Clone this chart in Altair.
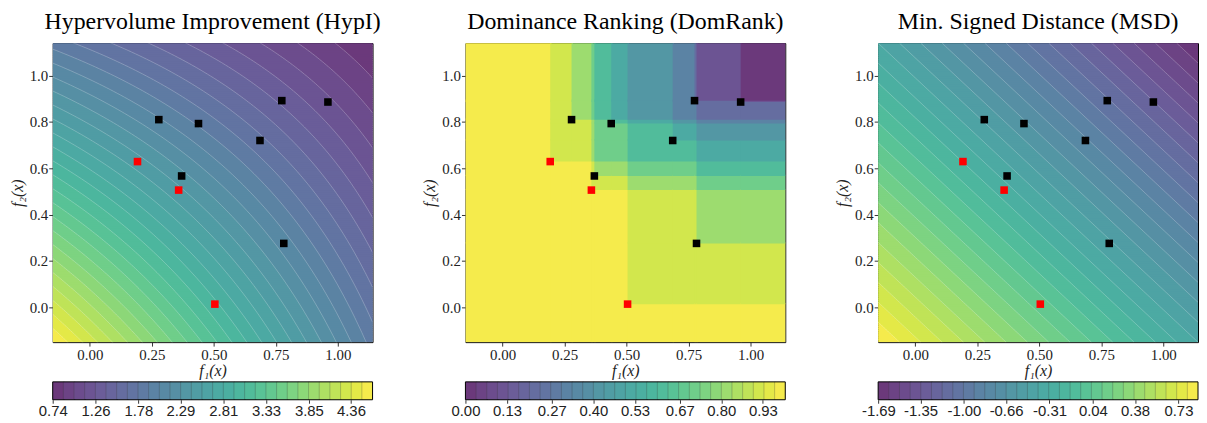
import numpy as np
import pandas as pd
import altair as alt

# ---------------- values ----------------
front_f1 = [0.192, 0.358, 0.504]                      # red squares
front_f2 = [0.629, 0.506, 0.014]
other_f1 = [0.278, 0.438, 0.370, 0.686, 0.774, 0.960, 0.782]   # black squares
other_f2 = [0.810, 0.793, 0.567, 0.720, 0.892, 0.886, 0.276]

panel_titles = ["Hypervolume Improvement (HypI)",
                "Dominance Ranking (DomRank)",
                "Min. Signed Distance (MSD)"]
x_ticks = [0.0, 0.25, 0.5, 0.75, 1.0]
y_ticks = [0.0, 0.2, 0.4, 0.6, 0.8, 1.0]
cbar_ticks_hypi = [0.74, 1.26, 1.78, 2.29, 2.81, 3.33, 3.85, 4.36]
cbar_ticks_dom = [0.00, 0.13, 0.27, 0.40, 0.53, 0.67, 0.80, 0.93]
cbar_ticks_msd = [-1.69, -1.35, -1.00, -0.66, -0.31, 0.04, 0.38, 0.73]

x_lim = [-0.15, 1.14]
y_lim = [-0.15, 1.14]
hv_ref = 2.0        # reference point of the hypervolume field
msd_offset = 0.588  # offset of the signed-distance field
n_bands = 30        # filled contour bands

all_f1 = front_f1 + other_f1
all_f2 = front_f2 + other_f2

# ---------------- layout / style ----------------
W, H = 322, 301
CB_TOP, CB_BOT = H + 40, H + 58
EPS = 0.005
SERIF = "Liberation Serif"
SANS = "Liberation Sans"


def f_hypi(X, Y):
    return (hv_ref - X) * (hv_ref - Y)


def f_msd(X, Y):
    return msd_offset - X - Y


def f_dom(X, Y):
    k = np.zeros_like(np.asarray(X, dtype=float))
    for px, py in zip(all_f1, all_f2):
        k = k + ((X >= px) & (Y >= py))
    return 1.0 - k / len(all_f1)


def band_mid(v, lo, hi):
    b = (hi - lo) / n_bands
    i = np.clip(np.floor((v - lo) / b + 1e-9), 0, n_bands - 1)
    return lo + (i + 0.5) * b, i


def banded_rows(func, lo, hi, nrow=160, ncol=640):
    ys = np.linspace(y_lim[0], y_lim[1], nrow + 1)
    xs = np.linspace(x_lim[0], x_lim[1], ncol + 1)
    xc = 0.5 * (xs[:-1] + xs[1:])
    recs = []
    for j in range(nrow):
        yc = 0.5 * (ys[j] + ys[j + 1])
        mid, idx = band_mid(func(xc, np.full_like(xc, yc)), lo, hi)
        start = 0
        for i in range(1, ncol + 1):
            if i == ncol or idx[i] != idx[start]:
                recs.append((xs[start], xs[i] + EPS, ys[j], ys[j + 1] + EPS, mid[start]))
                start = i
    return pd.DataFrame(recs, columns=["x", "x2", "y", "y2", "v"]).round(5)


def dom_cells(lo, hi):
    bx = sorted(set([x_lim[0], x_lim[1]] + all_f1))
    by = sorted(set([y_lim[0], y_lim[1]] + all_f2))
    recs = []
    for i in range(len(bx) - 1):
        for j in range(len(by) - 1):
            cx = 0.5 * (bx[i] + bx[i + 1])
            cy = 0.5 * (by[j] + by[j + 1])
            mid, _ = band_mid(np.array([f_dom(np.array(cx), np.array(cy))]), lo, hi)
            recs.append((bx[i], bx[i + 1] + EPS, by[j], by[j + 1] + EPS, float(mid[0])))
    return pd.DataFrame(recs, columns=["x", "x2", "y", "y2", "v"])


def level_lines(kind, lo, hi):
    lv = np.linspace(lo, hi, n_bands + 1)[1:-1]
    recs = []
    if kind == "hypi":
        xx = np.linspace(x_lim[0], x_lim[1], 90)
        for L in lv:
            yy = hv_ref - L / (hv_ref - xx)
            keep = (yy > y_lim[0] - 0.05) & (yy < y_lim[1] + 0.05)
            for k, (a, b) in enumerate(zip(xx[keep], yy[keep])):
                recs.append((L, k, a, b))
    else:
        for L in lv:
            s = msd_offset - L          # x + y = s
            xa = max(x_lim[0], s - y_lim[1])
            xb = min(x_lim[1], s - y_lim[0])
            if xb > xa:
                recs.append((L, 0, xa, s - xa))
                recs.append((L, 1, xb, s - xb))
    return pd.DataFrame(recs, columns=["level", "k", "x", "y"]).round(5)


pts = pd.DataFrame({
    "x": other_f1 + front_f1,
    "y": other_f2 + front_f2,
    "c": ["#000000"] * len(other_f1) + ["#ff0000"] * len(front_f1),
})

one_row = pd.DataFrame({"a": [0]})


def panel(field_df, lines_df, title, lo, hi, cb_ticks):
    xs = alt.Scale(domain=x_lim, nice=False, zero=False)
    ys = alt.Scale(domain=y_lim, nice=False, zero=False)
    vscale = alt.Scale(scheme="viridis", domain=[lo, hi])
    heat = alt.Chart(field_df).mark_rect(clip=True, strokeWidth=0).encode(
        x=alt.X("x:Q", scale=xs,
                axis=alt.Axis(values=x_ticks, format=".2f", title="f₁(x)",
                              labelFlush=False)),
        x2="x2:Q",
        y=alt.Y("y:Q", scale=ys,
                axis=alt.Axis(values=y_ticks, format=".1f", title="f₂(x)",
                              titlePadding=4)),
        y2="y2:Q",
        color=alt.Color("v:Q", scale=vscale, legend=None),
    )
    veil = alt.Chart(one_row).mark_rect(color="white", opacity=0.2).encode(
        x=alt.value(0), x2=alt.value(W), y=alt.value(0), y2=alt.value(H))
    layers = [heat, veil]
    if lines_df is not None:
        ln = alt.Chart(lines_df).mark_line(color="white", strokeWidth=0.6,
                                           opacity=0.4, clip=True).encode(
            x=alt.X("x:Q", scale=xs, axis=None),
            y=alt.Y("y:Q", scale=ys),
            detail="level:N", order="k:Q")
        layers.append(ln)
    dots = alt.Chart(pts).mark_square(size=58, opacity=1).encode(
        x=alt.X("x:Q", scale=xs, axis=None),
        y=alt.Y("y:Q", scale=ys),
        color=alt.Color("c:N", scale=None))
    layers.append(dots)

    # ---- colour bar, drawn below the axes with its own x scale ----
    lv = np.linspace(lo, hi, n_bands + 1)
    cb = pd.DataFrame({"a": lv[:-1], "b": lv[1:], "v": 0.5 * (lv[:-1] + lv[1:])})
    cb.loc[cb.index[:-1], "b"] = cb["b"][:-1] + (hi - lo) * 0.004
    sep = pd.DataFrame({"a": lv[1:-1]})
    sc = alt.Scale(domain=[lo, hi], nice=False, zero=False)
    bars = alt.Chart(cb).mark_rect(strokeWidth=0).encode(
        x=alt.X("a:Q", scale=sc,
                axis=alt.Axis(values=cb_ticks, title=None,
                              labelExpr="replace(format(datum.value, '.2f'), '\u2212', '-')",
                              orient="bottom", offset=CB_BOT - H,
                              labelFont=SANS, labelFontSize=15, tickSize=3.5,
                              labelPadding=0, labelColor="#222",
                              labelOverlap=False, labelFlush=False)),
        x2="b:Q",
        y=alt.value(CB_TOP), y2=alt.value(CB_BOT),
        color=alt.Color("v:Q", scale=vscale, legend=None),
    )
    cveil = alt.Chart(one_row).mark_rect(color="white", opacity=0.2).encode(
        x=alt.value(0), x2=alt.value(W), y=alt.value(CB_TOP), y2=alt.value(CB_BOT))
    rules = alt.Chart(sep).mark_rule(color="#333333", strokeWidth=0.6, opacity=0.45).encode(
        x=alt.X("a:Q", scale=sc, axis=None), y=alt.value(CB_TOP), y2=alt.value(CB_BOT))
    frame = alt.Chart(one_row).mark_rect(filled=False, stroke="black", strokeWidth=1).encode(
        x=alt.value(0), x2=alt.value(W), y=alt.value(CB_TOP), y2=alt.value(CB_BOT))
    layers += [bars, cveil, rules, frame]

    return alt.layer(*layers).resolve_scale(color="independent", x="independent").properties(
        width=W, height=H,
        title=alt.TitleParams(title, font=SERIF, fontSize=24, fontWeight="normal",
                              anchor="middle", baseline="alphabetic", offset=-10,
                              color="black"),
    )


# field ranges over the plotted extent
hy_lo, hy_hi = f_hypi(x_lim[1], y_lim[1]), f_hypi(x_lim[0], y_lim[0])
ms_lo, ms_hi = f_msd(x_lim[1], y_lim[1]), f_msd(x_lim[0], y_lim[0])
dm_lo, dm_hi = 0.0, 1.0

p1 = panel(banded_rows(f_hypi, hy_lo, hy_hi), level_lines("hypi", hy_lo, hy_hi),
           panel_titles[0], hy_lo, hy_hi, cbar_ticks_hypi)
p2 = panel(dom_cells(dm_lo, dm_hi), None, panel_titles[1], dm_lo, dm_hi, cbar_ticks_dom)
p3 = panel(banded_rows(f_msd, ms_lo, ms_hi), level_lines("msd", ms_lo, ms_hi),
           panel_titles[2], ms_lo, ms_hi, cbar_ticks_msd)

chart = (
    alt.hconcat(p1, p2, p3, spacing=93.5, bounds="flush")
    .resolve_scale(color="independent")
    .properties(padding=0)
    .configure_view(stroke="black", strokeWidth=1)
    .configure_axis(
        labelFont=SERIF, labelFontSize=15, labelColor="#222",
        titleFont=SERIF, titleFontSize=16, titleFontStyle="italic",
        titleFontWeight="normal", titleColor="#222",
        tickColor="black", tickSize=4, tickWidth=0.8,
        domain=False, grid=False, labelPadding=1, titlePadding=1,
    )
)

chart.save("out.html", embed_options={"renderer": "svg", "actions": False})
